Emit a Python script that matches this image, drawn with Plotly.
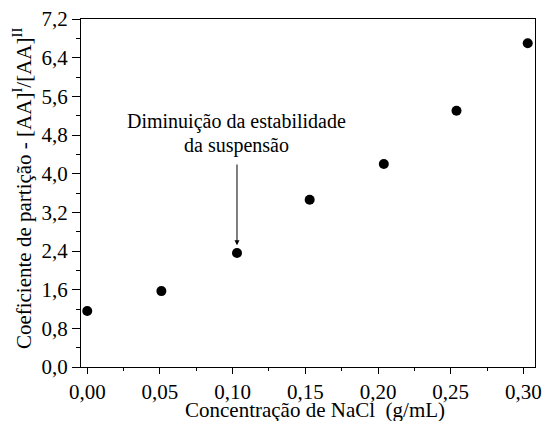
import plotly.graph_objects as go

conc = [0.0, 0.051, 0.103, 0.153, 0.204, 0.254, 0.303]
coef = [1.16, 1.57, 2.36, 3.46, 4.20, 5.30, 6.70]
x_ticks = [0.0, 0.05, 0.10, 0.15, 0.20, 0.25, 0.30]
x_labels = ["0,00", "0,05", "0,10", "0,15", "0,20", "0,25", "0,30"]
y_ticks = [0.0, 0.8, 1.6, 2.4, 3.2, 4.0, 4.8, 5.6, 6.4, 7.2]
y_labels = ["0,0", "0,8", "1,6", "2,4", "3,2", "4,0", "4,8", "5,6", "6,4", "7,2"]
x_title = "Concentração de NaCl  (g/mL)"
y_title = "Coeficiente de partição - [AA]<sup>I</sup>/[AA]<sup>II</sup>"
note_lines = ["Diminuição da estabilidade", "da suspensão"]

FONT = "Liberation Serif"

fig = go.Figure()
fig.add_trace(go.Scatter(x=conc, y=coef, mode="markers",
                         marker=dict(color="black", size=10),
                         showlegend=False))

axis_common = dict(showline=True, linecolor="black", linewidth=1, mirror=True,
                   ticks="outside", tickwidth=1, tickcolor="black",
                   showgrid=False, zeroline=False, automargin=False,
                   tickfont=dict(family=FONT, size=21, color="black"))

fig.update_xaxes(range=[-0.0043, 0.308], tickvals=x_ticks, ticktext=x_labels, ticklen=6,
                 minor=dict(ticks="outside", ticklen=3, tickwidth=1, tickcolor="black",
                            tickvals=[0.025, 0.075, 0.125, 0.175, 0.225, 0.275]),
                 **axis_common)
fig.update_yaxes(range=[0, 7.2], tickvals=y_ticks, ticktext=y_labels, ticklen=8,
                 minor=dict(ticks="outside", ticklen=4, tickwidth=1, tickcolor="black",
                            tickvals=[0.4, 1.2, 2.0, 2.8, 3.6, 4.4, 5.2, 6.0, 6.8]),
                 **axis_common)

# axis titles
fig.add_annotation(x=0.515, y=-0.123, xref="paper", yref="paper", showarrow=False,
                   text=x_title, xanchor="center", yanchor="middle",
                   font=dict(family=FONT, size=21, color="black"))
fig.add_annotation(x=-0.13, y=0.514, xref="paper", yref="paper", showarrow=False,
                   text=y_title, textangle=-90, xanchor="center", yanchor="middle",
                   font=dict(family=FONT, size=21, color="black"))

# arrow + note
fig.add_annotation(x=conc[2], y=2.52, ax=conc[2], ay=4.22, axref="x", ayref="y",
                   xref="x", yref="y", text="", showarrow=True,
                   arrowhead=2, arrowsize=1, arrowwidth=1, arrowcolor="black")
for line, yv in zip(note_lines, [5.07, 4.59]):
    fig.add_annotation(x=conc[2], y=yv, xref="x", yref="y", showarrow=False,
                       text=line, xanchor="center", yanchor="middle",
                       font=dict(family=FONT, size=20, color="black"))

fig.update_layout(width=543, height=421, margin=dict(l=81, r=8, t=19, b=54),
                  plot_bgcolor="white", paper_bgcolor="white",
                  font=dict(family=FONT, color="black"))

fig.write_html("out.html", config={"displayModeBar": False},
               post_script="document.body.style.margin='0px';")
